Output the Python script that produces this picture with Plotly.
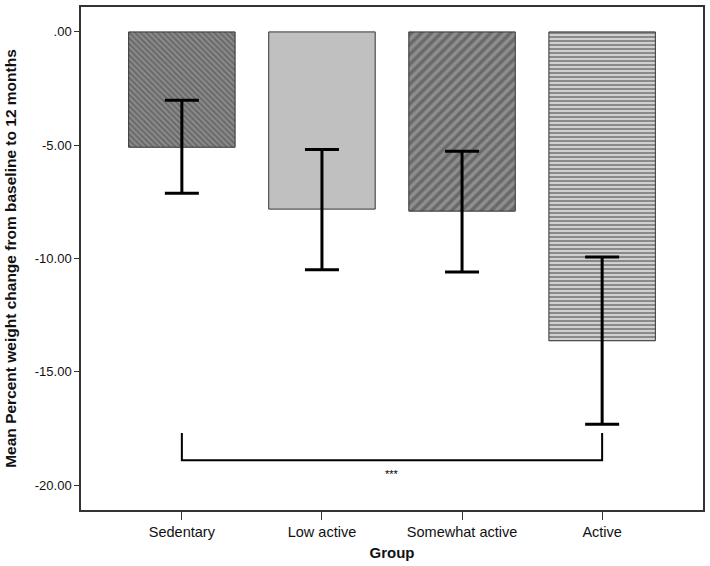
import plotly.graph_objects as go

categories = ["Sedentary", "Low active", "Somewhat active", "Active"]
means = [-5.09, -7.82, -7.91, -13.63]
err_upper = [-3.02, -5.19, -5.27, -9.93]
err_lower = [-7.12, -10.50, -10.60, -17.32]
bracket_x = ["Sedentary", "Sedentary", "Active", "Active"]
bracket_y = [-17.7, -18.9, -18.9, -17.7]
sig_label = "***"
sig_x = 1.5
sig_y = -19.5
ytick_vals = [0, -5, -10, -15, -20]
ytick_text = [".00", "-5.00", "-10.00", "-15.00", "-20.00"]

err_plus = [u - m for u, m in zip(err_upper, means)]
err_minus = [m - l for m, l in zip(means, err_lower)]

fig = go.Figure()
fig.add_trace(go.Bar(
    x=categories, y=means, width=0.76,
    marker=dict(
        color=["#8c8c8c", "#c0c0c0", "#8e8e8e", "#d0d0d0"],
        line=dict(color="#333333", width=1),
        pattern=dict(
            shape=["\\", "", "/", "-"],
            fgcolor=["#222222", "#c0c0c0", "#000000", "#505050"],
            size=[4, 6, 7, 4],
            solidity=[0.5, 0.3, 0.5, 0.5],
            fillmode="overlay",
        ),
    ),
    error_y=dict(type="data", symmetric=False, array=err_plus, arrayminus=err_minus,
                 color="black", thickness=3, width=17),
    showlegend=False, hoverinfo="skip",
))
fig.add_trace(go.Scatter(
    x=bracket_x, y=bracket_y, mode="lines",
    line=dict(color="black", width=2), showlegend=False, hoverinfo="skip",
))
fig.add_annotation(x=sig_x, y=sig_y, text=sig_label, showarrow=False,
                   font=dict(size=11, color="black"))

fig.update_layout(
    width=710, height=566,
    margin=dict(l=81, r=7, t=5, b=56),
    paper_bgcolor="white", plot_bgcolor="white",
    font=dict(family="Liberation Sans, Arial, sans-serif", color="#111111"),
)
fig.update_xaxes(
    range=[-0.72, 3.72], showline=True, linecolor="#333333", linewidth=1.5, mirror=True,
    ticks="outside", ticklen=8, tickcolor="#333333", tickfont=dict(size=14.5, color="#111111"),
    title=dict(text="<b>Group</b>", font=dict(size=15, color="#111111"), standoff=8),
    showgrid=False, zeroline=False,
)
fig.update_yaxes(
    range=[-21.1, 1.1], showline=True, linecolor="#333333", linewidth=1.5, mirror=True,
    ticks="outside", ticklen=5, tickcolor="#333333", tickfont=dict(size=13, color="#111111"),
    tickvals=ytick_vals, ticktext=ytick_text,
    title=dict(text="<b>Mean Percent weight change from baseline to 12 months</b>",
               font=dict(size=15.5, color="#111111"), standoff=14),
    showgrid=False, zeroline=False,
)
fig.write_html("out.html", config={"displayModeBar": False},
               post_script="document.body.style.margin='0';")
